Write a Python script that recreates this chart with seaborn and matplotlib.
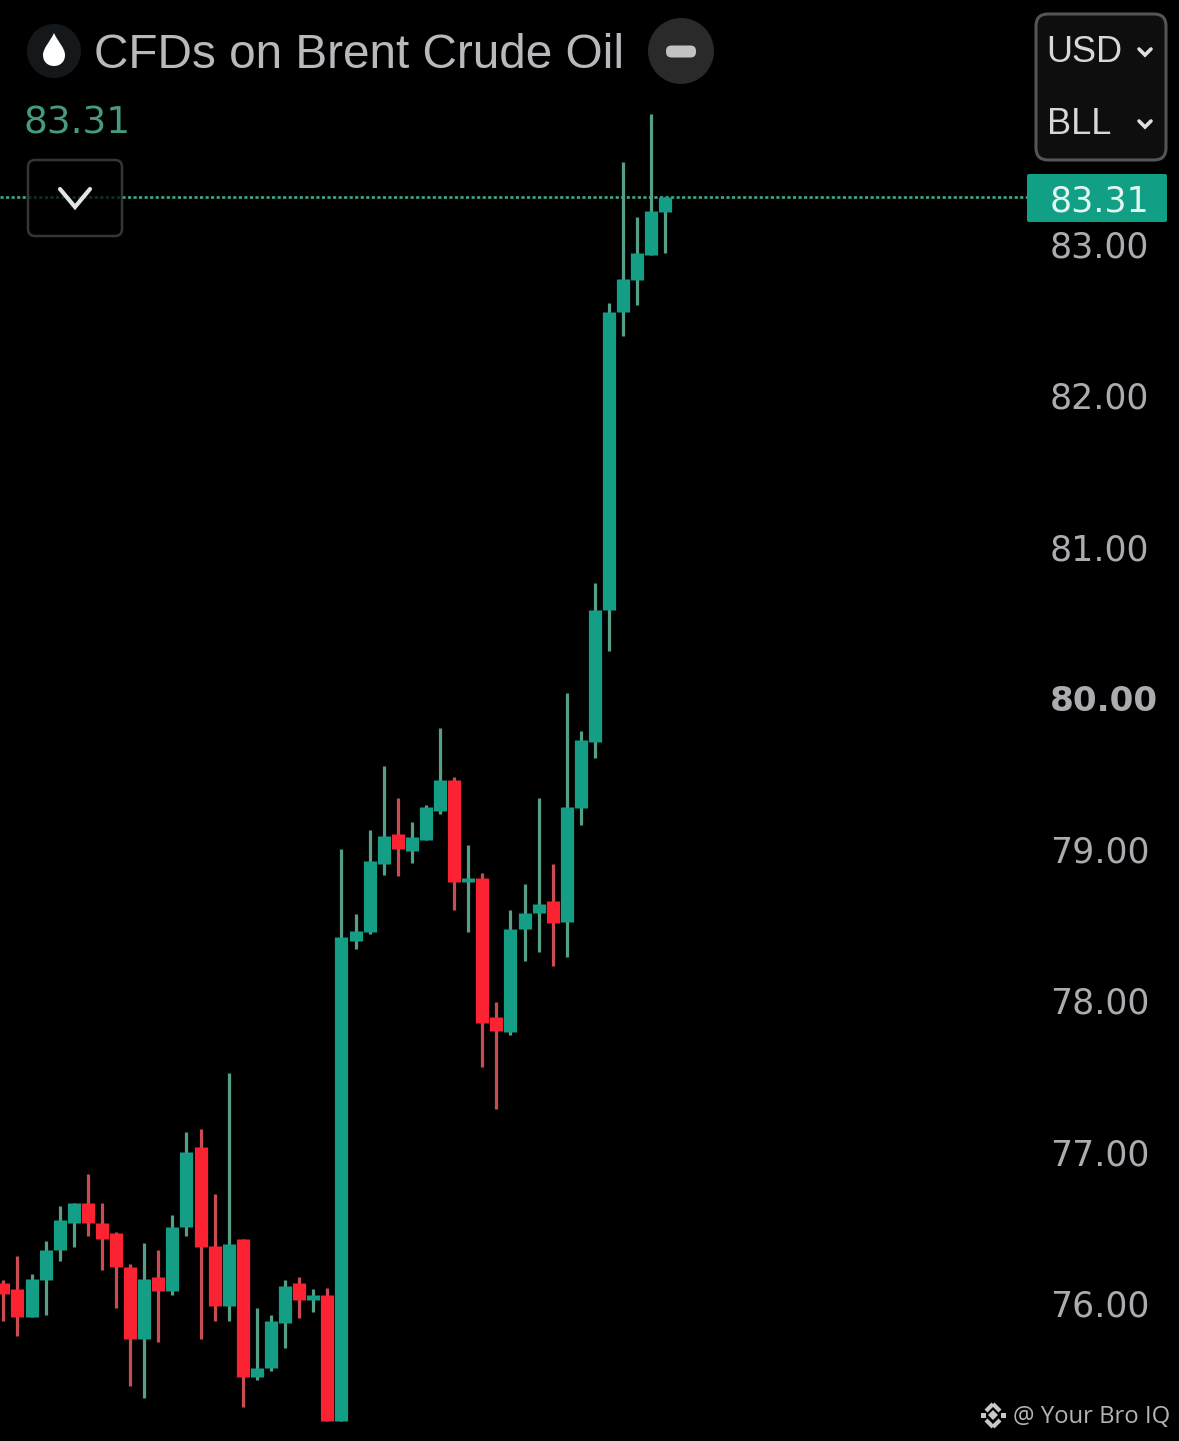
import matplotlib
matplotlib.use("Agg")
import matplotlib.pyplot as plt
import numpy as np
import pandas as pd
import seaborn as sns
from matplotlib.patches import Circle, FancyBboxPatch, PathPatch, Rectangle
from matplotlib.path import Path
from matplotlib.transforms import Affine2D

opens = [76.13,76.09,75.91,76.15,76.35,76.53,76.66,76.53,76.46,76.24,75.76,76.17,76.08,76.50,77.03,76.38,75.98,76.42,75.51,75.57,75.87,76.13,76.02,76.05,
         75.22,78.39,78.45,78.90,79.10,78.99,79.06,79.25,79.46,78.78,78.81,77.89,77.79,78.47,78.58,78.66,78.52,79.27,79.71,80.58,82.55,82.76,82.93,83.21]
closes = [76.06,75.91,76.16,76.35,76.55,76.66,76.53,76.42,76.24,75.76,76.16,76.08,76.50,77.00,76.37,75.98,76.39,75.51,75.57,75.88,76.11,76.02,76.05,75.22,
          78.42,78.46,78.92,79.09,79.00,79.08,79.28,79.46,78.78,78.81,77.85,77.80,78.47,78.58,78.64,78.51,79.28,79.72,80.58,82.55,82.77,82.94,83.22,83.31]
highs = [76.15,76.31,76.19,76.41,76.64,76.66,76.85,76.66,76.47,76.26,76.40,76.35,76.58,77.13,77.15,76.72,77.52,76.42,75.97,75.92,76.15,76.17,76.09,76.10,
         79.00,78.57,79.13,79.55,79.34,79.18,79.29,79.80,79.48,79.03,78.84,77.99,78.60,78.77,79.34,78.90,80.03,79.78,80.76,82.61,83.54,83.18,83.86,83.31]
lows = [75.88,75.78,75.91,75.92,76.28,76.37,76.44,76.22,75.97,75.45,75.37,75.74,76.05,76.44,75.76,75.88,75.88,75.31,75.49,75.55,75.70,75.90,75.94,75.22,
        75.22,78.34,78.44,78.83,78.82,78.91,79.06,79.23,78.60,78.45,77.56,77.28,77.77,78.26,78.32,78.23,78.29,79.16,79.60,80.31,82.39,82.60,82.93,82.94]
y_ticks = [76, 77, 78, 79, 80, 81, 82, 83]
last_price = 83.31
title = "CFDs on Brent Crude Oil"

W, H = 1179, 1441
GREEN, GREEN_WICK = "#139e85", "#559f86"
RED, RED_WICK = "#fb2332", "#c94c53"

sns.set_theme(style="dark", rc={"figure.facecolor": "black", "axes.facecolor": "black",
                                "axes.grid": False, "savefig.facecolor": "black"})
plt.rcParams["font.family"] = ["DejaVu Sans"]

idx = np.arange(len(opens))
up = np.array(closes) >= np.array(opens)
bodies = pd.DataFrame({"candle": np.r_[idx, idx], "price": np.r_[opens, closes], "up": np.r_[up, up]})
wicks = pd.DataFrame({"candle": np.r_[idx, idx], "price": np.r_[lows, highs], "up": np.r_[up, up]})

fig = plt.figure(figsize=(W / 100, H / 100), dpi=100)
ax = fig.add_axes([0, 0, 1, 1])

sns.lineplot(data=wicks, x="candle", y="price", hue="up", units="candle", estimator=None, sort=False,
             palette={True: GREEN_WICK, False: RED_WICK}, linewidth=2.3, legend=False, ax=ax,
             solid_capstyle="butt", zorder=3)
sns.lineplot(data=bodies, x="candle", y="price", hue="up", units="candle", estimator=None, sort=False,
             palette={True: GREEN, False: RED}, linewidth=9.5, legend=False, ax=ax,
             solid_capstyle="butt", zorder=4)

ax.set_xlim(-0.24, 83.464)
ax.set_ylim(75.088, 84.613)
ax.set_xlabel("")
ax.set_ylabel("")
ax.set_xticks([])
ax.yaxis.tick_right()
ax.set_yticks(y_ticks)
ax.set_yticklabels([f"{v:.2f}" for v in y_ticks])
ax.tick_params(axis="y", length=0, pad=-92.8, labelsize=25, labelcolor="#ababb0")
ax.get_yticklabels()[y_ticks.index(80)].set_fontweight("bold")
ax.get_yticklabels()[y_ticks.index(80)].set_fontsize(24.6)
for s in ax.spines.values():
    s.set_visible(False)

ax.axhline(last_price, xmax=1027 / W, color="#3fa78f", lw=1.9, ls=(0, (1.2, 0.9)), zorder=2)

# Interface furniture, placed in reference pixels
px = Affine2D().scale(1, -1).translate(0, H)


def add(p):
    p.set_clip_on(False)
    fig.add_artist(p)
    p.set_transform(px)


def box(x0, y0, x1, y1, fc, ec, r=9, lw=2, z=6, alpha=None):
    add(FancyBboxPatch((x0, y0), x1 - x0, y1 - y0, boxstyle=f"round,pad=0,rounding_size={r}",
                       fc=fc, ec=ec, lw=lw, zorder=z, alpha=alpha))


def text(x, y, s, **kw):
    kw.setdefault("va", "center")
    fig.text(x / W, 1 - y / H, s, zorder=9, **kw)


def chevron(xc, yc, w, h, color, lw):
    add(PathPatch(Path([(xc - w, yc - h), (xc, yc + h), (xc + w, yc - h)]), fc="none", ec=color, lw=lw,
                  zorder=8, capstyle="round", joinstyle="miter"))


add(Circle((54, 51), 27, fc="#15181b", ec="none", zorder=6))
drop = Path([(54, 33), (50, 42), (43, 48), (43, 55), (43, 62), (48, 66), (54, 66),
             (60, 66), (65, 62), (65, 55), (65, 48), (58, 42), (54, 33)],
            [Path.MOVETO] + [Path.CURVE4] * 12)
add(PathPatch(drop, fc="white", ec="none", zorder=7))
text(94, 56, title, fontsize=34.4, color="#b9b9bd", family="Liberation Sans", ha="left")
add(Circle((681, 51), 33, fc="#2a2a2b", ec="none", zorder=6))
box(666, 45.5, 696, 57.5, "#c2c2c4", "none", r=5.5, lw=0, z=7)
text(23.5, 123, f"{last_price:.2f}", fontsize=27, color="#459a7f", ha="left")

box(28, 160, 122, 236, "black", "#4a4a4a", r=7, lw=1.8, alpha=0.72)
chevron(75, 198, 15, 9, "#e4e4e4", 3)

box(1036, 14, 1166, 160, "#0e0e0f", "#555555", r=12, lw=2.2)
text(1046.5, 53, "USD", fontsize=26, color="#d8d8d8", family="Liberation Sans", ha="left")
text(1046.5, 125, "BLL", fontsize=26, color="#d8d8d8", family="Liberation Sans", ha="left")
chevron(1145, 52, 6, 3, "#e0e0e0", 2.6)
chevron(1145, 124, 6, 3, "#e0e0e0", 2.6)

box(1027, 174, 1167, 222, "#11a086", "none", r=2, lw=0)
text(1100, 201, f"{last_price:.2f}", fontsize=25, color="#e4f5f0", ha="center")

# Watermark
for dx, dy in [(983, 1415), (1003, 1415)]:
    add(Rectangle((dx - 2.5, dy - 2.5), 5, 5, fc="#c8c8c8", ec="none", zorder=8))
for a, b in [((993, 1404), (986, 1411)), ((993, 1404), (1000, 1411)),
             ((993, 1427), (986, 1420)), ((993, 1427), (1000, 1420))]:
    add(PathPatch(Path([a, b]), fc="none", ec="#c8c8c8", lw=3, zorder=8))
add(PathPatch(Path([(993, 1410), (998, 1415), (993, 1420), (988, 1415), (993, 1410)]),
              fc="#c8c8c8", ec="none", zorder=8))
text(1013, 1417, "@ Your Bro IQ", fontsize=17.2, color="#b4b4b4", family="Open Sans", ha="left")

fig.savefig("out.png", dpi=100)
